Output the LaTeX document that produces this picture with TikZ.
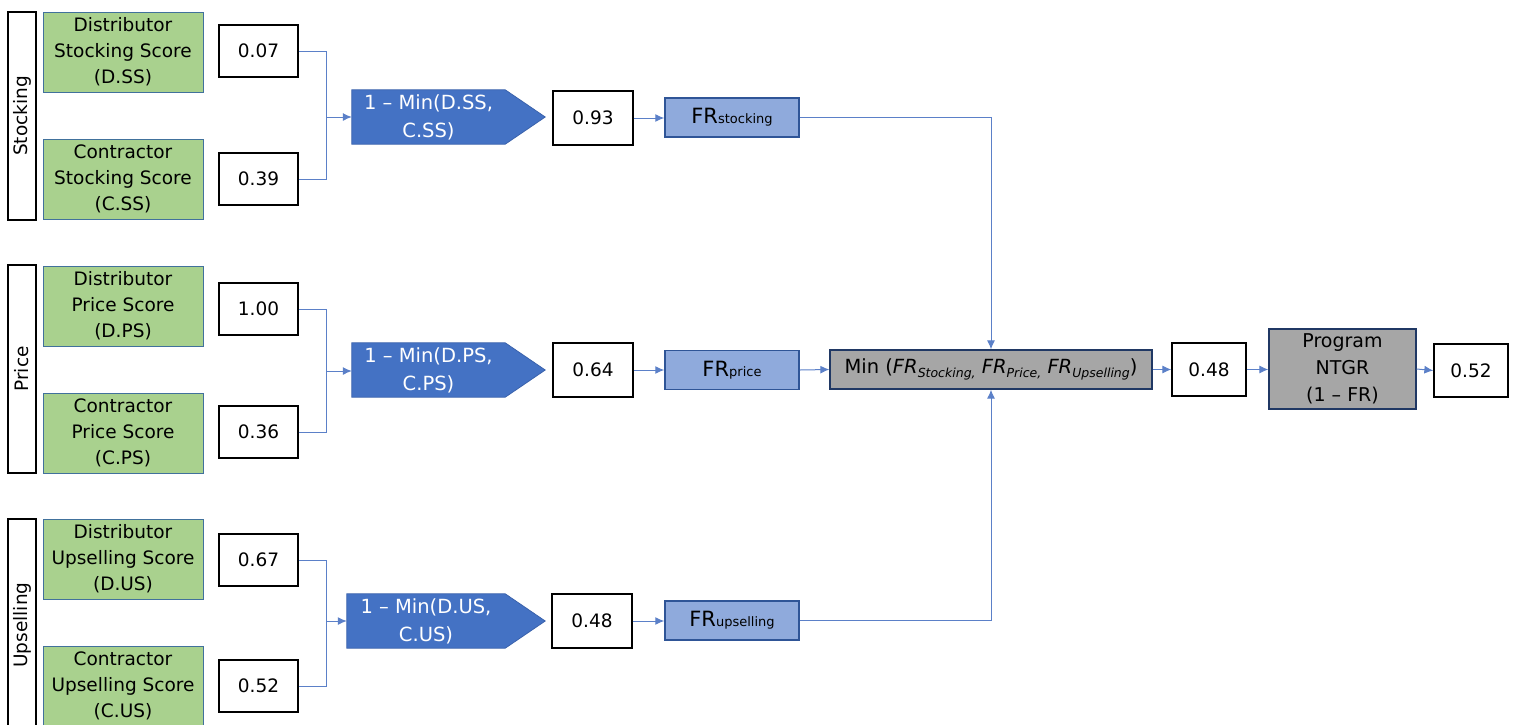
\documentclass[tikz,border=0pt]{standalone}
\usepackage{fontspec}
\setmainfont{DejaVu Sans}
\usetikzlibrary{arrows.meta,backgrounds,calc}

\definecolor{leaf}{HTML}{A9D18E}
\definecolor{leafedge}{HTML}{41719C}
\definecolor{formfill}{HTML}{4472C4}
\definecolor{formedge}{HTML}{3A62AC}
\definecolor{frfill}{HTML}{8FAADC}
\definecolor{fredge}{HTML}{2F5597}
\definecolor{greyfill}{HTML}{A6A6A6}
\definecolor{navy}{HTML}{203864}
\definecolor{linkc}{HTML}{5B80C8}

\newcommand\basefs{\fontsize{18.5}{26}\selectfont}
\newcommand\formfs{\fontsize{19.5}{28}\selectfont}
\newcommand\smallfs{\fontsize{13}{13}\selectfont}
\newcommand\subfs{\fontsize{12.5}{12.5}\selectfont}
\newcommand\frsub[1]{FR{\smallfs #1}}
\newcommand\frit[1]{\textit{FR}\raisebox{-4pt}{\subfs\itshape #1}}

\begin{document}
\begin{tikzpicture}[x=1pt,y=-1pt,
  side/.style={draw, line width=1.3pt, fill=white, rotate=90,
    minimum width=208pt, minimum height=28pt, inner sep=0pt, font=\basefs},
  score/.style={draw=leafedge, line width=1pt, fill=leaf,
    minimum width=160pt, minimum height=80pt, inner sep=0pt,
    align=center, font=\basefs},
  valbox/.style={draw, line width=1.3pt, fill=white,
    minimum width=79pt, minimum height=52pt, inner sep=0pt, font=\basefs},
  resbox/.style={valbox, minimum width=80pt, minimum height=54pt},
  formula/.style={minimum width=153pt, minimum height=54pt, inner sep=0pt,
    align=center, text=white, font=\formfs},
  frbox/.style={draw=fredge, line width=1.5pt, fill=frfill,
    minimum width=134pt, minimum height=39pt, inner sep=0pt, font=\fontsize{21}{21}\selectfont},
  greybox/.style={draw=navy, line width=1.3pt, fill=greyfill, inner sep=0pt,
    align=center, font=\basefs},
  link/.style={draw=linkc, line width=1pt},
  flow/.style={link, -{Latex[length=9pt,width=8pt]}}
]
\useasboundingbox (0,0) rectangle (1513,724);

% ---------- side category bars ----------
\node[side] (sS) at (22,116) {Stocking};
\node[side] (sP) at (22,369) {Price};
\node[side, minimum width=212pt] (sU) at (22,625) {Upselling};

% ---------- input scores ----------
\node[score] (dSS) at (123,52)  {Distributor\\Stocking Score\\(D.SS)};
\node[score] (cSS) at (123,179) {Contractor\\Stocking Score\\(C.SS)};
\node[score] (dPS) at (123,306) {Distributor\\Price Score\\(D.PS)};
\node[score] (cPS) at (123,433) {Contractor\\Price Score\\(C.PS)};
\node[score] (dUS) at (123,559) {Distributor\\Upselling Score\\(D.US)};
\node[score] (cUS) at (123,686) {Contractor\\Upselling Score\\(C.US)};

% ---------- score values ----------
\node[valbox] (vDS) at (258.5,51)  {0.07};
\node[valbox] (vCS) at (258.5,179) {0.39};
\node[valbox] (vDP) at (258.5,309) {1.00};
\node[valbox] (vCP) at (258.5,432) {0.36};
\node[valbox] (vDU) at (258.5,560) {0.67};
\node[valbox] (vCU) at (258.5,686) {0.52};

% ---------- formulas (pentagon arrows) ----------
\node[formula] (pS) at (428.5,117) {1 – Min(D.SS,\\C.SS)};
\node[formula] (pP) at (428.5,370) {1 – Min(D.PS,\\C.PS)};
\node[formula, minimum width=158pt] (pU) at (426,621) {1 – Min(D.US,\\C.US)};
\begin{pgfonlayer}{background}
  \foreach \p in {pS,pP,pU}{
    \filldraw[fill=formfill, draw=formedge, line width=0.8pt]
      (\p.north west) -- (\p.north east) -- ($(\p.east)+(40,0)$)
      -- (\p.south east) -- (\p.south west) -- cycle;
  }
\end{pgfonlayer}

% ---------- results ----------
\node[resbox] (rS) at (593,118) {0.93};
\node[resbox] (rP) at (593,370) {0.64};
\node[resbox] (rU) at (592,621) {0.48};

% ---------- factor ratios ----------
\node[frbox] (fS) at (732,117.5) {\frsub{stocking}};
\node[frbox] (fP) at (732,370)   {\frsub{price}};
\node[frbox] (fU) at (732,620.5) {\frsub{upselling}};

% ---------- combination ----------
\node[greybox, minimum width=322pt, minimum height=39pt, font=\fontsize{19.5}{19.5}\selectfont] (m) at (991,369.5)
  {Min (\frit{Stocking,} \frit{Price,} \frit{Upselling})};
\node[valbox, minimum width=74pt, minimum height=53pt] (r48) at (1209,369.5) {0.48};
\node[greybox, minimum width=147pt, minimum height=80pt, font=\fontsize{19}{27}\selectfont] (prog) at (1342.5,369)
  {Program\\NTGR\\(1 – FR)};
\node[valbox, minimum width=74pt, minimum height=53pt] (r52) at (1471,370.5) {0.52};

% ---------- connectors ----------
\coordinate (jS) at (326,117);
\coordinate (jP) at (326,371);
\coordinate (jU) at (326,621);

\draw[link] (vDS.east) -| (jS);
\draw[link] (vCS.east) -| (jS);
\draw[flow] (jS) -- (pS.west);
\draw[link] (vDP.east) -| (jP);
\draw[link] (vCP.east) -| (jP);
\draw[flow] (jP) -- (pP.west |- jP);
\draw[link] (vDU.east) -| (jU);
\draw[link] (vCU.east) -| (jU);
\draw[flow] (jU) -- (pU.west);

\draw[flow] (rS.east) -- (fS.west |- rS.east);
\draw[flow] (rP.east) -- (fP.west);
\draw[flow] (rU.east) -- (fU.west |- rU.east);

\draw[flow] (fS.east) -| (m.north);
\draw[flow] (fP.east) -- (m.west);
\draw[flow] (fU.east) -| (m.south);

\draw[flow] (m.east) -- (r48.west);
\draw[flow] (r48.east) -- (prog.west |- r48.east);
\draw[flow] (prog.east) -- (r52.west);
\end{tikzpicture}
\end{document}
